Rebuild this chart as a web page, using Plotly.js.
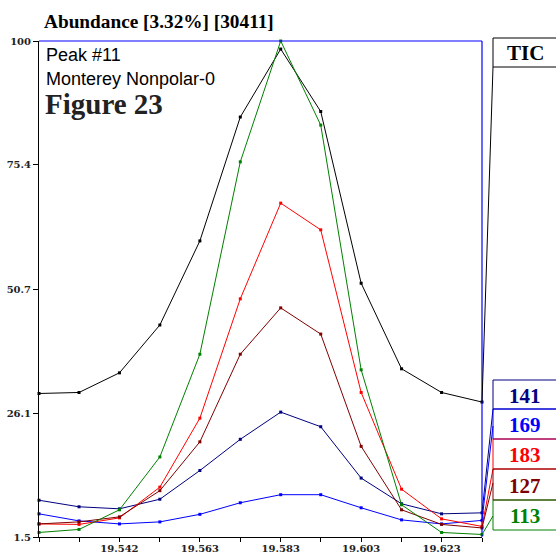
<!DOCTYPE html>
<html>
<head>
<meta charset="utf-8">
<script src="https://cdn.plot.ly/plotly-3.0.1.min.js"></script>
<style>html,body{margin:0;padding:0;background:#fff;}#chart{width:556px;height:554px;}</style>
</head>
<body>
<div id="chart"></div>
<script>
// Retention times (min) of the scans
const times = [19.5217, 19.5318, 19.5420, 19.5522, 19.5623, 19.5725, 19.5827, 19.5928, 19.6030, 19.6132, 19.6233, 19.6335];
const xTickText = ['', '', '19.542', '', '19.563', '', '19.583', '', '19.603', '', '19.623', ''];
const yTickVals = [1.5, 26.1, 50.7, 75.4, 100];
const yTickText = ['1.5', '26.1', '50.7', '75.4', '100'];

// Relative abundance (%) per ion
const tic  = [30.0, 30.2, 34.1, 43.6, 60.3, 84.9, 98.4, 86.0, 51.9, 34.9, 30.2, 28.3];
const m141 = [8.8, 7.5, 7.1, 9.0, 14.7, 20.9, 26.3, 23.4, 13.2, 8.1, 6.1, 6.3];
const m169 = [6.1, 4.7, 4.1, 4.5, 6.0, 8.3, 9.9, 9.9, 7.3, 4.9, 4.1, 4.8];
const m183 = [4.1, 4.0, 5.3, 11.4, 25.1, 48.8, 67.8, 62.5, 30.2, 11.0, 5.1, 3.6];
const m127 = [4.1, 4.5, 5.5, 10.7, 20.4, 37.8, 47.0, 41.8, 19.5, 6.9, 4.0, 3.3];
const m113 = [2.4, 3.0, 6.9, 17.4, 37.8, 76.0, 100, 83.3, 34.7, 7.9, 2.4, 2.0];

const seriesNames = ['TIC', '141', '169', '183', '127', '113'];
const seriesData = [tic, m141, m169, m183, m127, m113];
const seriesColors = ['#000000', '#000080', '#0000ff', '#ff0000', '#800000', '#008000'];

// Legend boxes (paper coords, pixel-derived)
const W = 443, H = 496, L = 39, T = 41;
const px = x => (x - L) / W;
const py = y => (T + H - y) / H;
const boxes = [ // top, bottom, connector start y (pixels)
  [38, 67, 67],
  [380, 409, 409],
  [409, 439, 426],
  [439, 469, 469],
  [469, 500, 483],
  [500, 530, 516]
];
const yMin = 1.5, yMax = 100;
const valToPaper = v => (v - yMin) / (yMax - yMin);

const traces = seriesData.map((d, i) => ({
  x: times, y: d, type: 'scatter', mode: 'lines+markers',
  name: seriesNames[i],
  line: {color: seriesColors[i], width: 1},
  marker: {color: seriesColors[i], size: 3, symbol: 'square'},
  cliponaxis: false, showlegend: false, hoverinfo: 'skip'
}));

const shapes = [
  {type: 'line', xref: 'paper', yref: 'paper', x0: 0, x1: 1, y0: 1, y1: 1, line: {color: '#0000ff', width: 1.2}},
  {type: 'line', xref: 'paper', yref: 'paper', x0: 1, x1: 1, y0: 0, y1: 1, line: {color: '#0000ff', width: 1.2}}
];
const annotations = [];
seriesNames.forEach((n, i) => {
  const b = boxes[i];
  const c = seriesColors[i];
  shapes.push({type: 'rect', xref: 'paper', yref: 'paper', x0: px(493), x1: px(600), y0: py(b[1]), y1: py(b[0]),
    line: {color: c, width: 1}, fillcolor: 'rgba(255,255,255,0)'});
  const last = seriesData[i][seriesData[i].length - 1];
  shapes.push({type: 'line', xref: 'paper', yref: 'paper', x0: px(493), y0: py(b[2]), x1: 1, y1: valToPaper(last),
    line: {color: c, width: 1}});
  annotations.push({xref: 'paper', yref: 'paper', x: px(525), y: py((b[0] + b[1]) / 2 + 1), text: n, showarrow: false,
    xanchor: 'center', yanchor: 'middle',
    font: {family: 'Liberation Serif, Times New Roman, serif', size: 21, color: c, weight: 'bold'}});
});
annotations.push(
  {xref: 'paper', yref: 'paper', x: px(44), y: py(55.5), text: 'Peak #11', showarrow: false, xanchor: 'left', yanchor: 'middle',
    font: {family: 'Liberation Sans, Arial, sans-serif', size: 18, color: '#000'}},
  {xref: 'paper', yref: 'paper', x: px(44), y: py(79), text: 'Monterey Nonpolar-0', showarrow: false, xanchor: 'left', yanchor: 'middle',
    font: {family: 'Liberation Sans, Arial, sans-serif', size: 18, color: '#000'}},
  {xref: 'paper', yref: 'paper', x: px(43), y: py(104), text: 'Figure 23', showarrow: false, xanchor: 'left', yanchor: 'middle',
    font: {family: 'Liberation Serif, Times New Roman, serif', size: 29, color: '#222', weight: 'bold'}}
);

const layout = {
  width: 556, height: 554,
  margin: {l: 39, r: 74, t: 41, b: 17, pad: 0},
  paper_bgcolor: '#ffffff', plot_bgcolor: 'rgba(0,0,0,0)',
  title: {text: 'Abundance [3.32%] [30411]', xref: 'container', yref: 'container', x: 44 / 556, xanchor: 'left',
    y: 1 - 21 / 554, yanchor: 'middle',
    font: {family: 'Liberation Serif, Times New Roman, serif', size: 19.3, color: '#000', weight: 'bold'}},
  xaxis: {range: [times[0], times[times.length - 1]], tickmode: 'array', tickvals: times, ticktext: xTickText,
    showgrid: false, zeroline: false, showline: true, linecolor: '#000', linewidth: 1,
    ticks: 'outside', ticklen: 4, tickcolor: '#000', tickwidth: 1, ticklabelstandoff: -2,
    tickfont: {family: 'DejaVu Serif, serif', size: 10, color: '#222', weight: 'bold'}},
  yaxis: {range: [yMin, yMax], tickmode: 'array', tickvals: yTickVals, ticktext: yTickText,
    showgrid: false, zeroline: false, showline: true, linecolor: '#000', linewidth: 1,
    ticks: 'outside', ticklen: 5, tickcolor: '#000', tickwidth: 1,
    tickfont: {family: 'DejaVu Serif, serif', size: 10, color: '#222', weight: 'bold'}},
  shapes: shapes,
  annotations: annotations
};

Plotly.newPlot('chart', traces, layout, {displayModeBar: false, staticPlot: true});
</script>
</body>
</html>
